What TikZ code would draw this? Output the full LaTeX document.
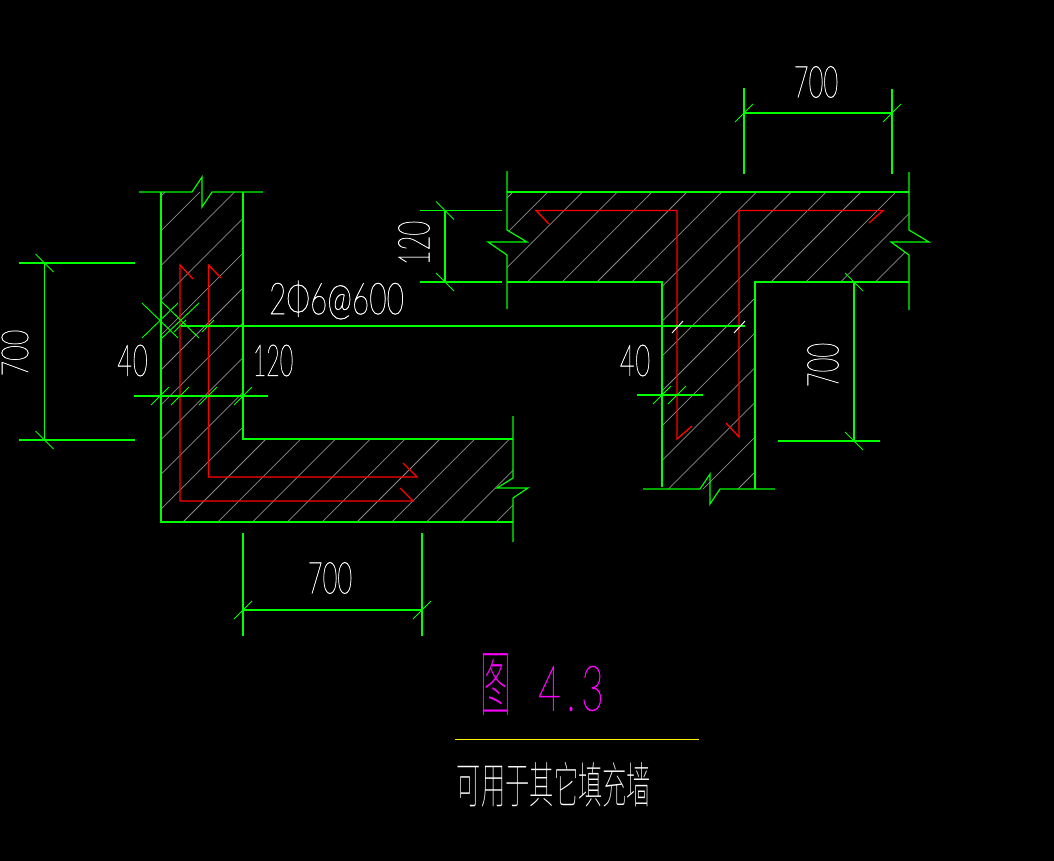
\documentclass[tikz,border=0pt]{standalone}
\usepackage{fontspec}
\newfontfamily\cadfont[FakeBold=1.2]{Lato Hairline}
\newfontfamily\cjk{Noto Sans CJK SC Thin}
\definecolor{cadgreen}{RGB}{0,255,0}
\definecolor{cadred}{RGB}{255,0,0}
\definecolor{cadhatch}{RGB}{140,140,140}
\definecolor{cadmagenta}{RGB}{255,0,255}
\newcommand{\narrow}[1]{\scalebox{0.58}[1]{#1}}
\tikzset{
  wall/.style={cadgreen, line width=0.9pt},
  dimline/.style={cadgreen, line width=0.85pt},
  rebar/.style={cadred, line width=1pt},
  hatchline/.style={cadhatch, line width=0.55pt},
  dimtext/.style={white, inner sep=0pt, font=\cadfont\fontsize{33}{33}\selectfont}
}

\begin{document}
\begin{tikzpicture}[x=0.75pt, y=-0.75pt]
\fill[black] (0,0) rectangle (1054,861);
\useasboundingbox (0,0) rectangle (1054,861);

% hatching, left wall
\begin{scope}
\clip (161,192) -- (243,192) -- (243,439) -- (513,439) -- (513,478) -- (497,488) -- (513,498) -- (513,522) -- (161,522) -- cycle;
\foreach \k in {0,...,19} \draw[hatchline] ({357+34.8*\k-900},900) -- ({357+34.8*\k+100},-100);
\end{scope}

% hatching, T wall
\begin{scope}
\clip (507,192) -- (909,192) -- (909,230) -- (891,242) -- (909,255) -- (909,282) -- (755,282) -- (755,489) -- (662,489) -- (662,282) -- (507,282) -- (507,255) -- (527,242) -- (507,230) -- cycle;
\foreach \k in {0,...,25} \draw[hatchline] ({705+34.8*\k-900},900) -- ({705+34.8*\k+100},-100);
\end{scope}

% rebars
\draw[rebar] (193,279) -- (180,265) -- (180,501) -- (413,501) -- (400,488);
\draw[rebar] (221,278) -- (208.5,265) -- (208.5,477) -- (417,477) -- (403,463);
\draw[rebar] (549,224) -- (536,210.5) -- (677,210.5) -- (677,439) -- (692,426);
\draw[rebar] (869,223) -- (883,210.5) -- (739,210.5) -- (739,437) -- (726,423);

% walls
\draw[wall] (139,192) -- (192,192) -- (202,177) -- (202,207) -- (212,192) -- (263,192);
\draw[wall] (161,192) -- (161,522) -- (513,522);
\draw[wall] (243,192) -- (243,439) -- (513,439);
\draw[wall] (513,416) -- (513,478) -- (497,488) -- (528,488) -- (513,498) -- (513,542);
\draw[wall] (507,192) -- (909,192);
\draw[wall] (507,171) -- (507,230) -- (527,242) -- (488,242) -- (507,255) -- (507,309);
\draw[wall] (507,282) -- (662,282) -- (662,487);
\draw[wall] (643,489) -- (700,489) -- (710,474) -- (710,504) -- (720,489) -- (775,489);
\draw[wall] (755,489) -- (755,282) -- (909,282);
\draw[wall] (909,172) -- (909,230) -- (929,242) -- (891,242) -- (909,255) -- (909,310);

% dimensions
\draw[dimline] (19,263) -- (135,263);
\draw[dimline] (19,440) -- (135,440);
\draw[dimline] (44.5,263) -- (44.5,440);
\draw[dimline] (134,396) -- (268,396);
\draw[dimline] (243,533) -- (243,636);
\draw[dimline] (422,533) -- (422,636);
\draw[dimline] (243,610) -- (422,610);
\draw[dimline] (744,88) -- (744,174);
\draw[dimline] (892,89) -- (892,174);
\draw[dimline] (744,113) -- (892,113);
\draw[dimline] (420,210.5) -- (502,210.5);
\draw[dimline] (420,282) -- (502,282);
\draw[dimline] (445,210.5) -- (445,282);
\draw[dimline] (637,395) -- (703,395);
\draw[dimline] (854,282) -- (854,441);
\draw[dimline] (778,441) -- (880,441);
\draw[dimline] (181,326) -- (745,326);

\foreach \x/\y in {160/396,180/396,208/396,243/396,243/610,422/610,744/113,892/113,662/395,677/395}
  \draw[cadgreen, line width=0.7pt] (\x-9,\y+9) -- (\x+9,\y-9);
\foreach \x/\y in {44.5/263,44.5/440,445/210.5,445/282,854/282,854/441}
  \draw[cadgreen, line width=0.7pt] (\x-9,\y-9) -- (\x+9,\y+9);
\foreach \x in {180,208}
  \draw[cadgreen, line width=0.7pt] (\x-6,332) -- (\x+6,320);
\foreach \x in {677,739}
  \draw[white, line width=0.7pt] (\x-5,333) -- (\x+6,321);
\draw[cadgreen, line width=0.7pt] (142,303) -- (178,338);
\draw[cadgreen, line width=0.7pt] (142,338) -- (178,303);
\draw[cadgreen, line width=0.7pt] (162,302) -- (199,338);
\draw[cadgreen, line width=0.7pt] (162,338) -- (199,303);

% labels
\node[dimtext] (topdim) at (816,82) {\narrow{700}};
\node[dimtext] (bardim) at (336.5,300) {\scalebox{0.68}[1]{2Φ6@600}};
\node[dimtext] (leftcover) at (132.5,360.5) {\narrow{4\kern1pt0}};
\node[dimtext] (leftwall) at (273,360.5) {\scalebox{0.53}[1]{120}};
\node[dimtext] (rightcover) at (635,360.5) {\narrow{4\kern1pt0}};
\node[dimtext] (bottomdim) at (330,578) {\narrow{700}};
\node[dimtext, rotate=90, font=\cadfont\fontsize{28}{28}\selectfont] (leftdim) at (15,353) {\scalebox{0.72}[1]{700}};
\node[dimtext, rotate=90] (slabdim) at (414,243) {\narrow{120}};
\node[dimtext, rotate=90] (rightdim) at (823,365) {\narrow{700}};

\node[inner sep=0pt, text=cadmagenta, font=\cjk\fontsize{42}{42}\selectfont] (figword) at (495.5,685) {\scalebox{0.55}[1.3]{图}};
\node[inner sep=0pt, text=cadmagenta, font=\cadfont\fontsize{47}{47}\selectfont] (fignum) at (571,688.5) {\scalebox{0.62}[1]{4\kern7pt.\kern7pt3}};
\draw[yellow, line width=0.75pt] (455,739) -- (699,739);
\node[white, inner sep=0pt, font=\cjk\fontsize{26}{26}\selectfont] (caption) at (554,785) {\scalebox{0.7}[1.42]{可用于其它填充墙}};
\end{tikzpicture}
\end{document}
